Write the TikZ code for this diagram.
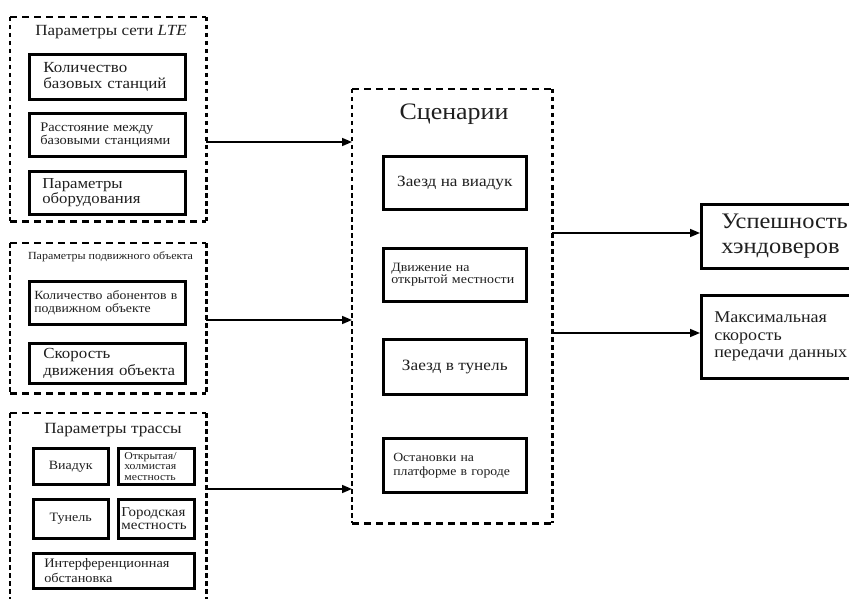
\documentclass[tikz,border=0pt]{standalone}
\usepackage{fontspec}
\setmainfont{Liberation Serif}[FakeStretch=1.1]
\usetikzlibrary{arrows.meta}
\newcommand{\fsz}[2]{\fontsize{#1}{#2}\selectfont}
\begin{document}
\begin{tikzpicture}[x=1pt,y=-1pt,
  box/.style={draw, line width=2.6pt, inner sep=0pt, anchor=north west, text=black!88},
  grp/.style={inner sep=0pt, anchor=north west},
  hdash/.style={line width=2.6pt, dash pattern=on 7pt off 5pt},
  vdash/.style={line width=2.6pt, dash pattern=on 4.5pt off 3.5pt},
  arr/.style={line width=1.5pt, -{Triangle[length=10pt,width=8pt]}},
  ttl/.style={inner sep=0pt, text=black!88}]
\useasboundingbox (0,0) rectangle (849,599);
\clip (0,0) rectangle (849,599);

% ---------- LTE network parameters ----------
\node[grp, minimum width=196pt, minimum height=204pt] (g1) at (10,17) {};
\draw[hdash] (g1.north west) -- (g1.north east);
\draw[hdash] (g1.south west) -- (g1.south east);
\draw[vdash] (g1.north west) -- (g1.south west);
\draw[vdash] (g1.north east) -- (g1.south east);
\node[ttl, font=\fsz{15.5}{17}] (t1) at (111,32) {Параметры сети \textit{LTE}};
\node[box, minimum width=156pt, minimum height=45pt, text width=128pt, align=left, font=\fsz{15.4}{15.3}] (b11) at (28,53) {Количество\\базовых станций};
\node[box, minimum width=156pt, minimum height=43pt, text width=134pt, align=left, font=\fsz{13.1}{12.5}] (b12) at (28,112) {Расстояние между\\базовыми станциями};
\node[box, minimum width=156pt, minimum height=43pt, text width=130pt, align=left, font=\fsz{15.2}{15}] (b13) at (28,170) {Параметры\\оборудования};

% ---------- mobile object parameters ----------
\node[grp, minimum width=196pt, minimum height=150pt] (g2) at (10,243) {};
\draw[hdash] (g2.north west) -- (g2.north east);
\draw[hdash] (g2.south west) -- (g2.south east);
\draw[vdash] (g2.north west) -- (g2.south west);
\draw[vdash] (g2.north east) -- (g2.south east);
\node[ttl, font=\fsz{10.9}{12}] (t2) at (110.5,257) {Параметры подвижного объекта};
\node[box, minimum width=156pt, minimum height=43pt, text width=146pt, align=left, font=\fsz{12.5}{13.3}] (b21) at (28,280) {Количество абонентов в\\подвижном объекте};
\node[box, minimum width=156pt, minimum height=40pt, text width=128pt, align=left, font=\fsz{15.4}{16.5}] (b22) at (28,342) {Скорость\\\mbox{движения объекта}};

% ---------- route parameters ----------
\node[grp, minimum width=196pt, minimum height=210pt] (g3) at (10,413) {};
\draw[hdash] (g3.north west) -- (g3.north east);
\draw[vdash] (g3.north west) -- (g3.south west);
\draw[vdash] (g3.north east) -- (g3.south east);
\node[ttl, font=\fsz{15.6}{17}] (t3) at (113,430) {Параметры трассы};
\node[box, minimum width=75pt, minimum height=36pt, align=center, font=\fsz{12.7}{14}] (b31) at (32,447) {Виадук};
\node[box, minimum width=76pt, minimum height=36pt, text width=64pt, align=left, font=\fsz{10.7}{10.5}] (b32) at (117,447) {Открытая/\\холмистая\\местность};
\node[box, minimum width=75pt, minimum height=39pt, align=center, font=\fsz{12.8}{14}] (b33) at (32,498) {Тунель};
\node[box, minimum width=76pt, minimum height=39pt, text width=70pt, align=left, font=\fsz{13.6}{13.3}] (b34) at (117,498) {Городская\\местность};
\node[box, minimum width=161pt, minimum height=35pt, text width=139pt, align=left, font=\fsz{13}{15}] (b35) at (32,552) {Интерференционная\\обстановка};

% ---------- scenarios ----------
\node[grp, minimum width=200pt, minimum height=434pt] (sc) at (352,89) {};
\draw[hdash] (sc.north west) -- (sc.north east);
\draw[hdash] (sc.south west) -- (sc.south east);
\draw[vdash] (sc.north west) -- (sc.south west);
\draw[vdash] (sc.north east) -- (sc.south east);
\node[ttl, font=\fsz{23.6}{26}] (ts) at (454,114) {Сценарии};
\node[box, minimum width=143pt, minimum height=53pt, align=center, font=\fsz{15.6}{17}] (s1) at (382,155) {Заезд на виадук};
\node[box, minimum width=143pt, minimum height=53pt, text width=127pt, align=left, font=\fsz{12.7}{12.7}] (s2) at (382,247) {Движение на\\открытой местности};
\node[box, minimum width=143pt, minimum height=55pt, align=center, font=\fsz{15.7}{17}] (s3) at (382,338) {Заезд в тунель};
\node[box, minimum width=143pt, minimum height=54pt, text width=123pt, align=left, font=\fsz{12.5}{14}] (s4) at (382,437) {Остановки на\\платформе в городе};

% ---------- results ----------
\node[box, minimum width=170pt, minimum height=64pt, text width=130pt, align=left, font=\fsz{22.2}{25}] (r1) at (700,203) {Успешность\\хэндоверов};
\node[box, minimum width=170pt, minimum height=83pt, text width=144pt, align=left, font=\fsz{16.4}{17.5}] (r2) at (700,294) {Максимальная\\скорость\\передачи данных};

% ---------- connectors ----------
\draw[arr] (g1.east |- 0,142) -- (sc.west |- 0,142);
\draw[arr] (g2.east |- 0,320) -- (sc.west |- 0,320);
\draw[arr] (g3.east |- 0,489) -- (sc.west |- 0,489);
\draw[arr] (sc.east |- 0,233) -- (r1.west |- 0,233);
\draw[arr] (sc.east |- 0,333) -- (r2.west |- 0,333);
\end{tikzpicture}
\end{document}
